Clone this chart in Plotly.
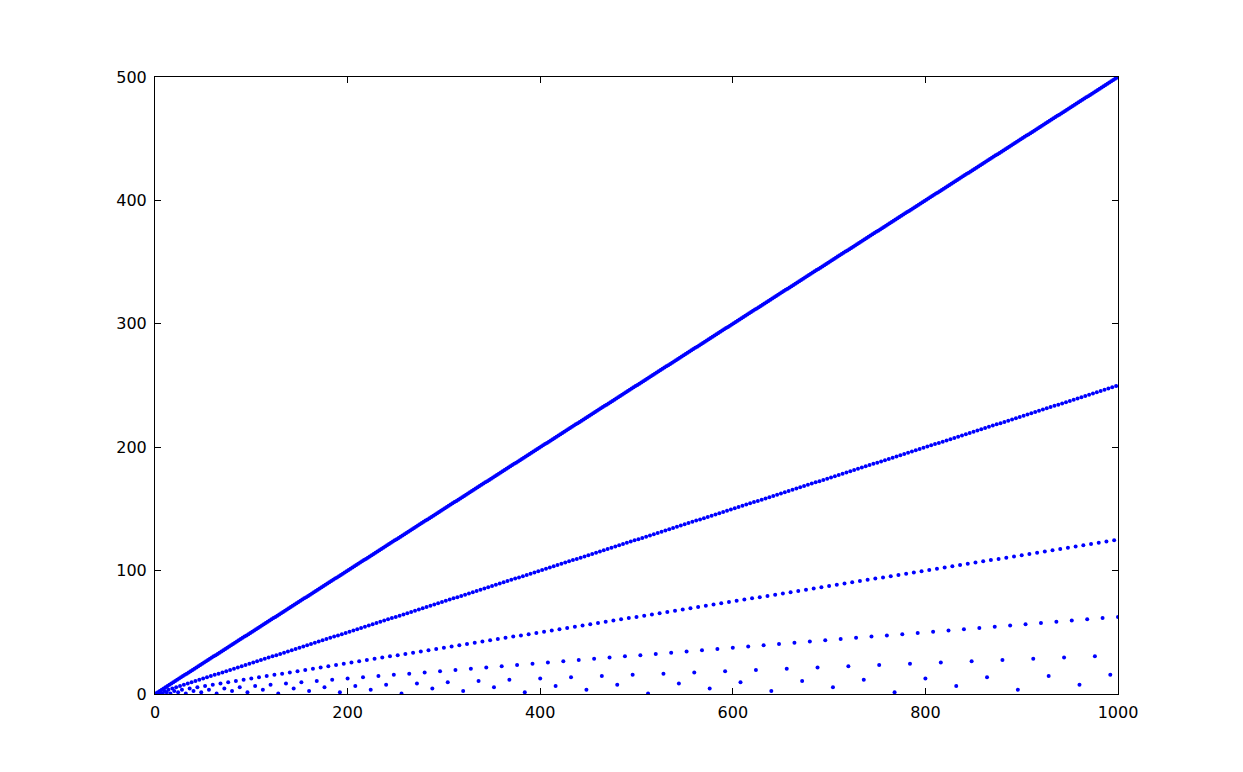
import plotly.graph_objects as go

# n = 1..1000
x_values = list(range(1, 1001))

y_values = [
    0.5, 0.5, 1.5, 0.5, 2.5, 1.5, 3.5, 0.5, 4.5, 2.5,
    5.5, 1.5, 6.5, 3.5, 7.5, 0.5, 8.5, 4.5, 9.5, 2.5,
    10.5, 5.5, 11.5, 1.5, 12.5, 6.5, 13.5, 3.5, 14.5, 7.5,
    15.5, 0.5, 16.5, 8.5, 17.5, 4.5, 18.5, 9.5, 19.5, 2.5,
    20.5, 10.5, 21.5, 5.5, 22.5, 11.5, 23.5, 1.5, 24.5, 12.5,
    25.5, 6.5, 26.5, 13.5, 27.5, 3.5, 28.5, 14.5, 29.5, 7.5,
    30.5, 15.5, 31.5, 0.5, 32.5, 16.5, 33.5, 8.5, 34.5, 17.5,
    35.5, 4.5, 36.5, 18.5, 37.5, 9.5, 38.5, 19.5, 39.5, 2.5,
    40.5, 20.5, 41.5, 10.5, 42.5, 21.5, 43.5, 5.5, 44.5, 22.5,
    45.5, 11.5, 46.5, 23.5, 47.5, 1.5, 48.5, 24.5, 49.5, 12.5,
    50.5, 25.5, 51.5, 6.5, 52.5, 26.5, 53.5, 13.5, 54.5, 27.5,
    55.5, 3.5, 56.5, 28.5, 57.5, 14.5, 58.5, 29.5, 59.5, 7.5,
    60.5, 30.5, 61.5, 15.5, 62.5, 31.5, 63.5, 0.5, 64.5, 32.5,
    65.5, 16.5, 66.5, 33.5, 67.5, 8.5, 68.5, 34.5, 69.5, 17.5,
    70.5, 35.5, 71.5, 4.5, 72.5, 36.5, 73.5, 18.5, 74.5, 37.5,
    75.5, 9.5, 76.5, 38.5, 77.5, 19.5, 78.5, 39.5, 79.5, 2.5,
    80.5, 40.5, 81.5, 20.5, 82.5, 41.5, 83.5, 10.5, 84.5, 42.5,
    85.5, 21.5, 86.5, 43.5, 87.5, 5.5, 88.5, 44.5, 89.5, 22.5,
    90.5, 45.5, 91.5, 11.5, 92.5, 46.5, 93.5, 23.5, 94.5, 47.5,
    95.5, 1.5, 96.5, 48.5, 97.5, 24.5, 98.5, 49.5, 99.5, 12.5,
    100.5, 50.5, 101.5, 25.5, 102.5, 51.5, 103.5, 6.5, 104.5, 52.5,
    105.5, 26.5, 106.5, 53.5, 107.5, 13.5, 108.5, 54.5, 109.5, 27.5,
    110.5, 55.5, 111.5, 3.5, 112.5, 56.5, 113.5, 28.5, 114.5, 57.5,
    115.5, 14.5, 116.5, 58.5, 117.5, 29.5, 118.5, 59.5, 119.5, 7.5,
    120.5, 60.5, 121.5, 30.5, 122.5, 61.5, 123.5, 15.5, 124.5, 62.5,
    125.5, 31.5, 126.5, 63.5, 127.5, 0.5, 128.5, 64.5, 129.5, 32.5,
    130.5, 65.5, 131.5, 16.5, 132.5, 66.5, 133.5, 33.5, 134.5, 67.5,
    135.5, 8.5, 136.5, 68.5, 137.5, 34.5, 138.5, 69.5, 139.5, 17.5,
    140.5, 70.5, 141.5, 35.5, 142.5, 71.5, 143.5, 4.5, 144.5, 72.5,
    145.5, 36.5, 146.5, 73.5, 147.5, 18.5, 148.5, 74.5, 149.5, 37.5,
    150.5, 75.5, 151.5, 9.5, 152.5, 76.5, 153.5, 38.5, 154.5, 77.5,
    155.5, 19.5, 156.5, 78.5, 157.5, 39.5, 158.5, 79.5, 159.5, 2.5,
    160.5, 80.5, 161.5, 40.5, 162.5, 81.5, 163.5, 20.5, 164.5, 82.5,
    165.5, 41.5, 166.5, 83.5, 167.5, 10.5, 168.5, 84.5, 169.5, 42.5,
    170.5, 85.5, 171.5, 21.5, 172.5, 86.5, 173.5, 43.5, 174.5, 87.5,
    175.5, 5.5, 176.5, 88.5, 177.5, 44.5, 178.5, 89.5, 179.5, 22.5,
    180.5, 90.5, 181.5, 45.5, 182.5, 91.5, 183.5, 11.5, 184.5, 92.5,
    185.5, 46.5, 186.5, 93.5, 187.5, 23.5, 188.5, 94.5, 189.5, 47.5,
    190.5, 95.5, 191.5, 1.5, 192.5, 96.5, 193.5, 48.5, 194.5, 97.5,
    195.5, 24.5, 196.5, 98.5, 197.5, 49.5, 198.5, 99.5, 199.5, 12.5,
    200.5, 100.5, 201.5, 50.5, 202.5, 101.5, 203.5, 25.5, 204.5, 102.5,
    205.5, 51.5, 206.5, 103.5, 207.5, 6.5, 208.5, 104.5, 209.5, 52.5,
    210.5, 105.5, 211.5, 26.5, 212.5, 106.5, 213.5, 53.5, 214.5, 107.5,
    215.5, 13.5, 216.5, 108.5, 217.5, 54.5, 218.5, 109.5, 219.5, 27.5,
    220.5, 110.5, 221.5, 55.5, 222.5, 111.5, 223.5, 3.5, 224.5, 112.5,
    225.5, 56.5, 226.5, 113.5, 227.5, 28.5, 228.5, 114.5, 229.5, 57.5,
    230.5, 115.5, 231.5, 14.5, 232.5, 116.5, 233.5, 58.5, 234.5, 117.5,
    235.5, 29.5, 236.5, 118.5, 237.5, 59.5, 238.5, 119.5, 239.5, 7.5,
    240.5, 120.5, 241.5, 60.5, 242.5, 121.5, 243.5, 30.5, 244.5, 122.5,
    245.5, 61.5, 246.5, 123.5, 247.5, 15.5, 248.5, 124.5, 249.5, 62.5,
    250.5, 125.5, 251.5, 31.5, 252.5, 126.5, 253.5, 63.5, 254.5, 127.5,
    255.5, 0.5, 256.5, 128.5, 257.5, 64.5, 258.5, 129.5, 259.5, 32.5,
    260.5, 130.5, 261.5, 65.5, 262.5, 131.5, 263.5, 16.5, 264.5, 132.5,
    265.5, 66.5, 266.5, 133.5, 267.5, 33.5, 268.5, 134.5, 269.5, 67.5,
    270.5, 135.5, 271.5, 8.5, 272.5, 136.5, 273.5, 68.5, 274.5, 137.5,
    275.5, 34.5, 276.5, 138.5, 277.5, 69.5, 278.5, 139.5, 279.5, 17.5,
    280.5, 140.5, 281.5, 70.5, 282.5, 141.5, 283.5, 35.5, 284.5, 142.5,
    285.5, 71.5, 286.5, 143.5, 287.5, 4.5, 288.5, 144.5, 289.5, 72.5,
    290.5, 145.5, 291.5, 36.5, 292.5, 146.5, 293.5, 73.5, 294.5, 147.5,
    295.5, 18.5, 296.5, 148.5, 297.5, 74.5, 298.5, 149.5, 299.5, 37.5,
    300.5, 150.5, 301.5, 75.5, 302.5, 151.5, 303.5, 9.5, 304.5, 152.5,
    305.5, 76.5, 306.5, 153.5, 307.5, 38.5, 308.5, 154.5, 309.5, 77.5,
    310.5, 155.5, 311.5, 19.5, 312.5, 156.5, 313.5, 78.5, 314.5, 157.5,
    315.5, 39.5, 316.5, 158.5, 317.5, 79.5, 318.5, 159.5, 319.5, 2.5,
    320.5, 160.5, 321.5, 80.5, 322.5, 161.5, 323.5, 40.5, 324.5, 162.5,
    325.5, 81.5, 326.5, 163.5, 327.5, 20.5, 328.5, 164.5, 329.5, 82.5,
    330.5, 165.5, 331.5, 41.5, 332.5, 166.5, 333.5, 83.5, 334.5, 167.5,
    335.5, 10.5, 336.5, 168.5, 337.5, 84.5, 338.5, 169.5, 339.5, 42.5,
    340.5, 170.5, 341.5, 85.5, 342.5, 171.5, 343.5, 21.5, 344.5, 172.5,
    345.5, 86.5, 346.5, 173.5, 347.5, 43.5, 348.5, 174.5, 349.5, 87.5,
    350.5, 175.5, 351.5, 5.5, 352.5, 176.5, 353.5, 88.5, 354.5, 177.5,
    355.5, 44.5, 356.5, 178.5, 357.5, 89.5, 358.5, 179.5, 359.5, 22.5,
    360.5, 180.5, 361.5, 90.5, 362.5, 181.5, 363.5, 45.5, 364.5, 182.5,
    365.5, 91.5, 366.5, 183.5, 367.5, 11.5, 368.5, 184.5, 369.5, 92.5,
    370.5, 185.5, 371.5, 46.5, 372.5, 186.5, 373.5, 93.5, 374.5, 187.5,
    375.5, 23.5, 376.5, 188.5, 377.5, 94.5, 378.5, 189.5, 379.5, 47.5,
    380.5, 190.5, 381.5, 95.5, 382.5, 191.5, 383.5, 1.5, 384.5, 192.5,
    385.5, 96.5, 386.5, 193.5, 387.5, 48.5, 388.5, 194.5, 389.5, 97.5,
    390.5, 195.5, 391.5, 24.5, 392.5, 196.5, 393.5, 98.5, 394.5, 197.5,
    395.5, 49.5, 396.5, 198.5, 397.5, 99.5, 398.5, 199.5, 399.5, 12.5,
    400.5, 200.5, 401.5, 100.5, 402.5, 201.5, 403.5, 50.5, 404.5, 202.5,
    405.5, 101.5, 406.5, 203.5, 407.5, 25.5, 408.5, 204.5, 409.5, 102.5,
    410.5, 205.5, 411.5, 51.5, 412.5, 206.5, 413.5, 103.5, 414.5, 207.5,
    415.5, 6.5, 416.5, 208.5, 417.5, 104.5, 418.5, 209.5, 419.5, 52.5,
    420.5, 210.5, 421.5, 105.5, 422.5, 211.5, 423.5, 26.5, 424.5, 212.5,
    425.5, 106.5, 426.5, 213.5, 427.5, 53.5, 428.5, 214.5, 429.5, 107.5,
    430.5, 215.5, 431.5, 13.5, 432.5, 216.5, 433.5, 108.5, 434.5, 217.5,
    435.5, 54.5, 436.5, 218.5, 437.5, 109.5, 438.5, 219.5, 439.5, 27.5,
    440.5, 220.5, 441.5, 110.5, 442.5, 221.5, 443.5, 55.5, 444.5, 222.5,
    445.5, 111.5, 446.5, 223.5, 447.5, 3.5, 448.5, 224.5, 449.5, 112.5,
    450.5, 225.5, 451.5, 56.5, 452.5, 226.5, 453.5, 113.5, 454.5, 227.5,
    455.5, 28.5, 456.5, 228.5, 457.5, 114.5, 458.5, 229.5, 459.5, 57.5,
    460.5, 230.5, 461.5, 115.5, 462.5, 231.5, 463.5, 14.5, 464.5, 232.5,
    465.5, 116.5, 466.5, 233.5, 467.5, 58.5, 468.5, 234.5, 469.5, 117.5,
    470.5, 235.5, 471.5, 29.5, 472.5, 236.5, 473.5, 118.5, 474.5, 237.5,
    475.5, 59.5, 476.5, 238.5, 477.5, 119.5, 478.5, 239.5, 479.5, 7.5,
    480.5, 240.5, 481.5, 120.5, 482.5, 241.5, 483.5, 60.5, 484.5, 242.5,
    485.5, 121.5, 486.5, 243.5, 487.5, 30.5, 488.5, 244.5, 489.5, 122.5,
    490.5, 245.5, 491.5, 61.5, 492.5, 246.5, 493.5, 123.5, 494.5, 247.5,
    495.5, 15.5, 496.5, 248.5, 497.5, 124.5, 498.5, 249.5, 499.5, 62.5,
]

x_ticks = [0, 200, 400, 600, 800, 1000]
y_ticks = [0, 100, 200, 300, 400, 500]

fig = go.Figure()
fig.add_trace(go.Scatter(
    x=x_values,
    y=y_values,
    mode="markers",
    marker=dict(color="#0000ff", size=4, line=dict(width=0)),
    showlegend=False,
    hoverinfo="x+y",
))

axis_common = dict(
    showgrid=False,
    zeroline=False,
    showline=True,
    linecolor="black",
    linewidth=1,
    mirror="allticks",
    ticks="inside",
    ticklen=6,
    tickwidth=1,
    tickcolor="black",
    tickfont=dict(family="DejaVu Sans", size=16, color="black"),
)

fig.update_layout(
    width=1235,
    height=764,
    paper_bgcolor="white",
    plot_bgcolor="white",
    margin=dict(l=147, r=125, t=69, b=78),
    xaxis=dict(range=[0, 1000], tickvals=x_ticks, ticktext=[str(v) for v in x_ticks],
               ticklabelstandoff=4, **axis_common),
    yaxis=dict(range=[0, 500], tickvals=y_ticks, ticktext=[str(v) for v in y_ticks],
               ticklabelstandoff=4, **axis_common),
)

fig.write_html("out.html")
